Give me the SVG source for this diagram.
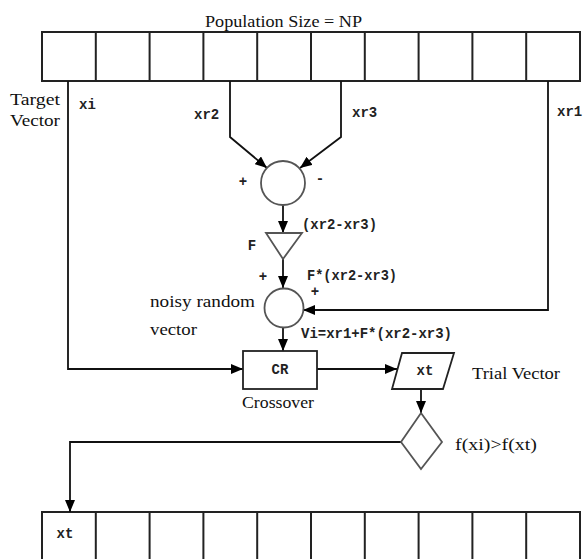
<svg xmlns="http://www.w3.org/2000/svg" width="583" height="559" viewBox="0 0 583 559">
<style>
.serif{font-family:"Liberation Serif","Times New Roman",serif;font-size:16px;fill:#111}
.mono{font-family:"Liberation Mono","Courier New",monospace;font-size:14px;font-weight:bold;fill:#222}
.cell{fill:#fff;stroke:#222;stroke-width:2}
.shape{fill:#fff;stroke:#555;stroke-width:1.8}
.box{fill:#fff;stroke:#222;stroke-width:1.8}
.conn{fill:none;stroke:#111;stroke-width:1.8}
</style>
<defs>
<marker id="arr" markerUnits="userSpaceOnUse" markerWidth="12" markerHeight="10" refX="12" refY="5" orient="auto">
<path d="M0,0 L12,5 L0,10 z" fill="#000"/>
</marker>
</defs>
<rect width="583" height="559" fill="#fff"/>
<g id="title"><text class="serif" x="205" y="27" textLength="157" lengthAdjust="spacingAndGlyphs">Population Size = NP</text></g>
<g id="population">
<rect class="cell" x="42" y="32" width="538" height="49"/>
<path class="cell" d="M95.8,32V81M149.6,32V81M203.4,32V81M257.2,32V81M311,32V81M364.8,32V81M418.6,32V81M472.4,32V81M526.2,32V81"/>
</g>
<g id="newpopulation">
<rect class="cell" x="42" y="512" width="538" height="60"/>
<path class="cell" d="M95.8,512V572M149.6,512V572M203.4,512V572M257.2,512V572M311,512V572M364.8,512V572M418.6,512V572M472.4,512V572M526.2,512V572"/>
<text class="mono" x="65" y="538" text-anchor="middle">xt</text>
</g>
<g id="connectors">
<path class="conn" d="M68,81V369H243" marker-end="url(#arr)"/>
<path class="conn" d="M230,81V137L267,168" marker-end="url(#arr)"/>
<path class="conn" d="M341,81V137L300,168" marker-end="url(#arr)"/>
<path class="conn" d="M283,205V233" marker-end="url(#arr)"/>
<path class="conn" d="M283,259V288" marker-end="url(#arr)"/>
<path class="conn" d="M548,81V310H303" marker-end="url(#arr)"/>
<path class="conn" d="M283,328V351" marker-end="url(#arr)"/>
<path class="conn" d="M317,369H397" marker-end="url(#arr)"/>
<path class="conn" d="M421,389V413" marker-end="url(#arr)"/>
<path class="conn" d="M401,442H70V512" marker-end="url(#arr)"/>
</g>
<g id="labels">
<text class="serif" x="10" y="105" textLength="50" lengthAdjust="spacingAndGlyphs">Target</text>
<text class="serif" x="10" y="126" textLength="50" lengthAdjust="spacingAndGlyphs">Vector</text>
<text class="mono" x="79" y="109">xi</text>
<text class="mono" x="194" y="119">xr2</text>
<text class="mono" x="352" y="117">xr3</text>
<text class="mono" x="557" y="116">xr1</text>
</g>
<g id="sum1">
<circle class="shape" cx="283" cy="183" r="22"/>
<text class="mono" x="243" y="186" text-anchor="middle">+</text>
<text class="mono" x="320" y="183" text-anchor="middle">-</text>
</g>
<g id="scale">
<path class="shape" d="M266,233H302L283,259Z"/>
<text class="mono" x="252" y="250" text-anchor="middle">F</text>
<text class="mono" x="302" y="229" textLength="75" lengthAdjust="spacingAndGlyphs">(xr2-xr3)</text>
<text class="mono" x="307" y="280" textLength="90" lengthAdjust="spacingAndGlyphs">F*(xr2-xr3)</text>
</g>
<g id="sum2">
<circle class="shape" cx="284" cy="308" r="19.5"/>
<text class="mono" x="263" y="281" text-anchor="middle">+</text>
<text class="mono" x="315" y="296" text-anchor="middle">+</text>
<text class="serif" x="150" y="307" textLength="105" lengthAdjust="spacingAndGlyphs">noisy random</text>
<text class="serif" x="150" y="335" textLength="47" lengthAdjust="spacingAndGlyphs">vector</text>
<text class="mono" x="301" y="338" textLength="151" lengthAdjust="spacingAndGlyphs">Vi=xr1+F*(xr2-xr3)</text>
</g>
<g id="crossover">
<rect class="box" x="243" y="351" width="74" height="38"/>
<text class="mono" x="280" y="374" text-anchor="middle">CR</text>
<text class="serif" x="242" y="408" textLength="72" lengthAdjust="spacingAndGlyphs">Crossover</text>
</g>
<g id="trial">
<path class="box" d="M402,353H454L443,389H392Z"/>
<text class="mono" x="425" y="375" text-anchor="middle">xt</text>
<text class="serif" x="472" y="379" textLength="88" lengthAdjust="spacingAndGlyphs">Trial Vector</text>
</g>
<g id="selection">
<path class="shape" d="M421,413L442,442L421,469L401,442Z"/>
<text class="serif" x="455" y="450" textLength="82" lengthAdjust="spacingAndGlyphs">f(xi)&gt;f(xt)</text>
</g>
</svg>
